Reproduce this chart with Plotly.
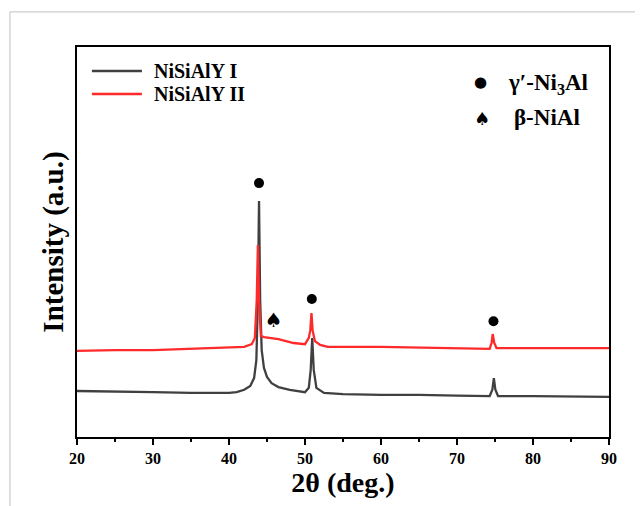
import plotly.graph_objects as go

# ---- data (intensity in arbitrary units) ----
x_I = [20, 25, 30, 35, 40, 41, 42, 42.8, 43.3, 43.6, 43.8, 43.95, 44.1, 44.3, 44.6, 45.0, 45.6, 46.5,
       48, 50, 50.5, 50.75, 50.95, 51.15, 51.5, 52.5, 55, 60, 65, 70, 74.3, 74.65, 74.85, 75.05, 75.4,
       80, 85, 90]
y_I = [11.8, 11.7, 11.5, 11.3, 11.3, 11.5, 12.1, 13.1, 15.1, 19.7, 35.1, 60.5, 35.1, 22.3, 17.7, 15.4,
       13.8, 12.8, 12.1, 11.5, 12.6, 17.2, 25.4, 17.2, 12.6, 11.3, 11.0, 10.8, 10.8, 10.6, 10.5, 12.1,
       15.1, 12.1, 10.5, 10.5, 10.4, 10.3]

x_II = [20, 25, 30, 35, 40, 42, 43, 43.4, 43.65, 43.8, 43.95, 44.2, 44.6, 45.5, 46.5, 47.5, 48.5, 50.0,
        50.5, 50.7, 50.85, 51.0, 51.3, 52, 53, 60, 70, 74.3, 74.55, 74.7, 74.9, 75.2, 80, 90]
y_II = [22.1, 22.3, 22.3, 22.6, 22.8, 23.1, 23.8, 25.4, 35.1, 49.2, 35.1, 25.9, 25.6, 25.4, 25.1, 24.6,
        24.1, 23.8, 25.4, 27.4, 31.8, 27.4, 24.6, 23.6, 23.1, 23.1, 22.8, 22.6, 24.1, 26.4, 24.1, 22.8,
        22.8, 22.8]

series_names = ["NiSiAlY I", "NiSiAlY II"]
series_colors = ["#404040", "#ff2a2a"]

# phase markers above peaks
gamma_x = [43.95, 50.9, 74.8]
gamma_y = [65.1, 35.4, 29.7]
beta_x = [45.9]
beta_y = [29.5]

phase_labels = ["γ′-Ni<sub>3</sub>Al", "β-NiAl"]
x_ticks = [20, 30, 40, 50, 60, 70, 80, 90]

FONT = "Liberation Serif"

fig = go.Figure()
fig.add_trace(go.Scatter(x=x_I, y=y_I, mode="lines", name=series_names[0], showlegend=False,
                         line=dict(color=series_colors[0], width=2.3)))
fig.add_trace(go.Scatter(x=x_II, y=y_II, mode="lines", name=series_names[1], showlegend=False,
                         line=dict(color=series_colors[1], width=2.3)))
fig.add_trace(go.Scatter(x=gamma_x, y=gamma_y, mode="markers", showlegend=False,
                         marker=dict(symbol="circle", size=10, color="black")))
fig.add_trace(go.Scatter(x=beta_x, y=beta_y, mode="text", text=["♠"], showlegend=False,
                         textfont=dict(size=20, color="black", family="DejaVu Sans")))

# series key (top left)
legend_rows = [0.9385, 0.8795]
for name, color, yy in zip(series_names, series_colors, legend_rows):
    fig.add_shape(type="line", xref="paper", yref="paper", x0=0.028, x1=0.122, y0=yy, y1=yy,
                  line=dict(color=color, width=2.3))
    fig.add_annotation(xref="paper", yref="paper", x=0.141, y=yy, text="<b>" + name + "</b>",
                       showarrow=False, xanchor="left", yanchor="middle",
                       font=dict(size=20, color="black", family=FONT))

# phase key (top right)
fig.add_annotation(xref="paper", yref="paper", x=0.774, y=0.905, text="●", showarrow=False,
                   yshift=13, font=dict(size=15, color="black", family="DejaVu Sans"))
fig.add_annotation(xref="paper", yref="paper", x=0.806, y=0.905, text="<b>" + phase_labels[0] + "</b>",
                   showarrow=False, xanchor="left", yanchor="middle",
                   font=dict(size=23, color="black", family=FONT))
fig.add_annotation(xref="paper", yref="paper", x=0.781, y=0.818, text="♠", showarrow=False,
                   yshift=12, font=dict(size=18, color="black", family="DejaVu Sans"))
fig.add_annotation(xref="paper", yref="paper", x=0.818, y=0.818, text="<b>" + phase_labels[1] + "</b>",
                   showarrow=False, xanchor="left", yanchor="middle",
                   font=dict(size=23, color="black", family=FONT))

# light outer frame of the picture
fig.add_shape(type="line", xref="paper", yref="paper", x0=-0.126, x1=-0.126, y0=1.09, y1=-0.25,
              line=dict(color="#c0c0c0", width=1))
fig.add_shape(type="line", xref="paper", yref="paper", x0=-0.126, x1=1.1, y0=1.09, y1=1.09,
              line=dict(color="#c0c0c0", width=1))

fig.update_layout(
    width=643, height=506,
    margin=dict(l=69, r=42, t=39, b=77),
    paper_bgcolor="white", plot_bgcolor="white",
    font=dict(family=FONT, color="black"),
    showlegend=False,
    xaxis=dict(range=[20, 90], tickvals=x_ticks, ticks="outside", ticklen=6, tickwidth=1.5,
               tickcolor="black", showline=True, linecolor="black", linewidth=2, mirror=True,
               showgrid=False, zeroline=False,
               tickfont=dict(size=16, family=FONT, color="black", weight="bold"),
               minor=dict(dtick=5, ticks="outside", ticklen=3, tickcolor="black", tickwidth=1.5),
               title=dict(text="<b>2θ (deg.)</b>", font=dict(size=28, family=FONT, color="black"),
                          standoff=5)),
    yaxis=dict(range=[0, 100], showticklabels=False, ticks="", showline=True, linecolor="black",
               linewidth=2, mirror=True, showgrid=False, zeroline=False,
               title=dict(text="<b>Intensity (a.u.)</b>", font=dict(size=29, family=FONT, color="black"),
                          standoff=3)),
)

fig.write_html("out.html")
